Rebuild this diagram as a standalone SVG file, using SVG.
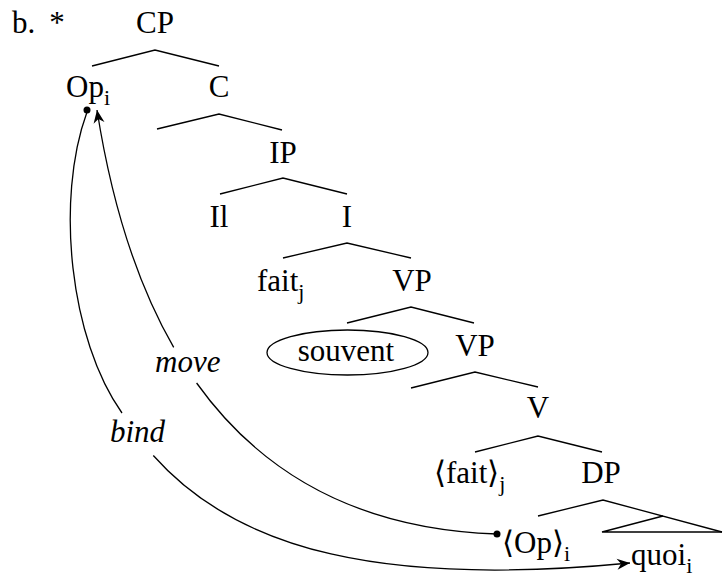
<svg xmlns="http://www.w3.org/2000/svg" width="723" height="576" viewBox="0 0 723 576">
<style>
.ln{fill:none;stroke:#000;stroke-width:1.3}
</style>
<defs>
<marker id="arrow" markerUnits="userSpaceOnUse" markerWidth="16" markerHeight="14" viewBox="-14 -7 16 14" refX="0" refY="0" orient="auto">
<path d="M0,0 L-13,-5.5 L-9,0 L-13,5.5 Z" fill="#000"/>
</marker>
</defs>
<g id="label-b"><text x="12" y="33" font-size="31" font-family="Times New Roman, Liberation Serif, serif">b.</text><text x="57" y="33" font-size="31" font-family="Times New Roman, Liberation Serif, serif" text-anchor="middle">*</text></g>

<g id="tree-branches">
<polyline class="ln" points="92,66 155,50 219,66"/>
<polyline class="ln" points="157,129 219,114 282,130"/>
<polyline class="ln" points="220,194 283,178 347,194"/>
<polyline class="ln" points="283,258 347,243 411,258"/>
<polyline class="ln" points="347,323 411,307 474,323"/>
<polyline class="ln" points="411,388 475,372 538,387"/>
<polyline class="ln" points="475,452 538,436 602,452"/>
<polyline class="ln" points="538,516 603,500 722,532"/>
<polyline class="ln" points="663,516 602,532 722,532"/>
</g>

<g id="n-CP"><text x="155" y="33" font-size="31" font-family="Times New Roman, Liberation Serif, serif" text-anchor="middle">CP</text></g>
<g id="n-Op"><text x="66" y="97" font-size="31" font-family="Times New Roman, Liberation Serif, serif">Op<tspan font-size="22" dy="8">i</tspan></text></g>
<g id="n-C"><text x="219" y="97" font-size="31" font-family="Times New Roman, Liberation Serif, serif" text-anchor="middle">C</text></g>
<g id="n-IP"><text x="283" y="163" font-size="31" font-family="Times New Roman, Liberation Serif, serif" text-anchor="middle">IP</text></g>
<g id="n-Il"><text x="219" y="227" font-size="31" font-family="Times New Roman, Liberation Serif, serif" text-anchor="middle">Il</text></g>
<g id="n-I"><text x="347" y="227" font-size="31" font-family="Times New Roman, Liberation Serif, serif" text-anchor="middle">I</text></g>
<g id="n-fait"><text x="257" y="291" font-size="31" font-family="Times New Roman, Liberation Serif, serif">fait<tspan font-size="22" dy="8">j</tspan></text></g>
<g id="n-VP1"><text x="412" y="291" font-size="31" font-family="Times New Roman, Liberation Serif, serif" text-anchor="middle">VP</text></g>
<g id="n-souvent"><ellipse class="ln" cx="347.5" cy="352.5" rx="80.5" ry="22.5"/><text x="346" y="361" font-size="31" font-family="Times New Roman, Liberation Serif, serif" text-anchor="middle">souvent</text></g>
<g id="n-VP2"><text x="475" y="356" font-size="31" font-family="Times New Roman, Liberation Serif, serif" text-anchor="middle">VP</text></g>
<g id="n-V"><text x="538" y="418" font-size="31" font-family="Times New Roman, Liberation Serif, serif" text-anchor="middle">V</text></g>
<g id="n-faitt"><text x="434" y="483" font-size="31" font-family="Times New Roman, Liberation Serif, serif">⟨fait⟩<tspan font-size="22" dy="8">j</tspan></text></g>
<g id="n-DP"><text x="601" y="483" font-size="31" font-family="Times New Roman, Liberation Serif, serif" text-anchor="middle">DP</text></g>
<g id="n-Opt"><text x="502" y="553" font-size="31" font-family="Times New Roman, Liberation Serif, serif">⟨Op⟩<tspan font-size="22" dy="8">i</tspan></text></g>
<g id="n-quoi"><text x="631" y="565" font-size="31" font-family="Times New Roman, Liberation Serif, serif">quoi<tspan font-size="22" dy="8">i</tspan></text></g>

<g id="connectors">
<path class="ln" d="M497,534 C352.8,529.2 258.4,469.4 196.6,383"/>
<path class="ln" d="M173.7,347.4 C133.3,277.2 110.2,194 97,110" marker-end="url(#arrow)"/>
<path class="ln" d="M87,112 C55,200 70,340 122,413"/>
<path class="ln" d="M153.3,455.5 C237.9,551 383.6,586.8 630,563" marker-end="url(#arrow)"/>
<circle cx="497" cy="534" r="3.5" fill="#000"/>
<circle cx="87" cy="110" r="3.5" fill="#000"/>
<text x="155" y="372" font-size="31" font-family="Times New Roman, Liberation Serif, serif" font-style="italic">move</text>
<text x="110" y="442" font-size="31" font-family="Times New Roman, Liberation Serif, serif" font-style="italic">bind</text>
</g>
</svg>
